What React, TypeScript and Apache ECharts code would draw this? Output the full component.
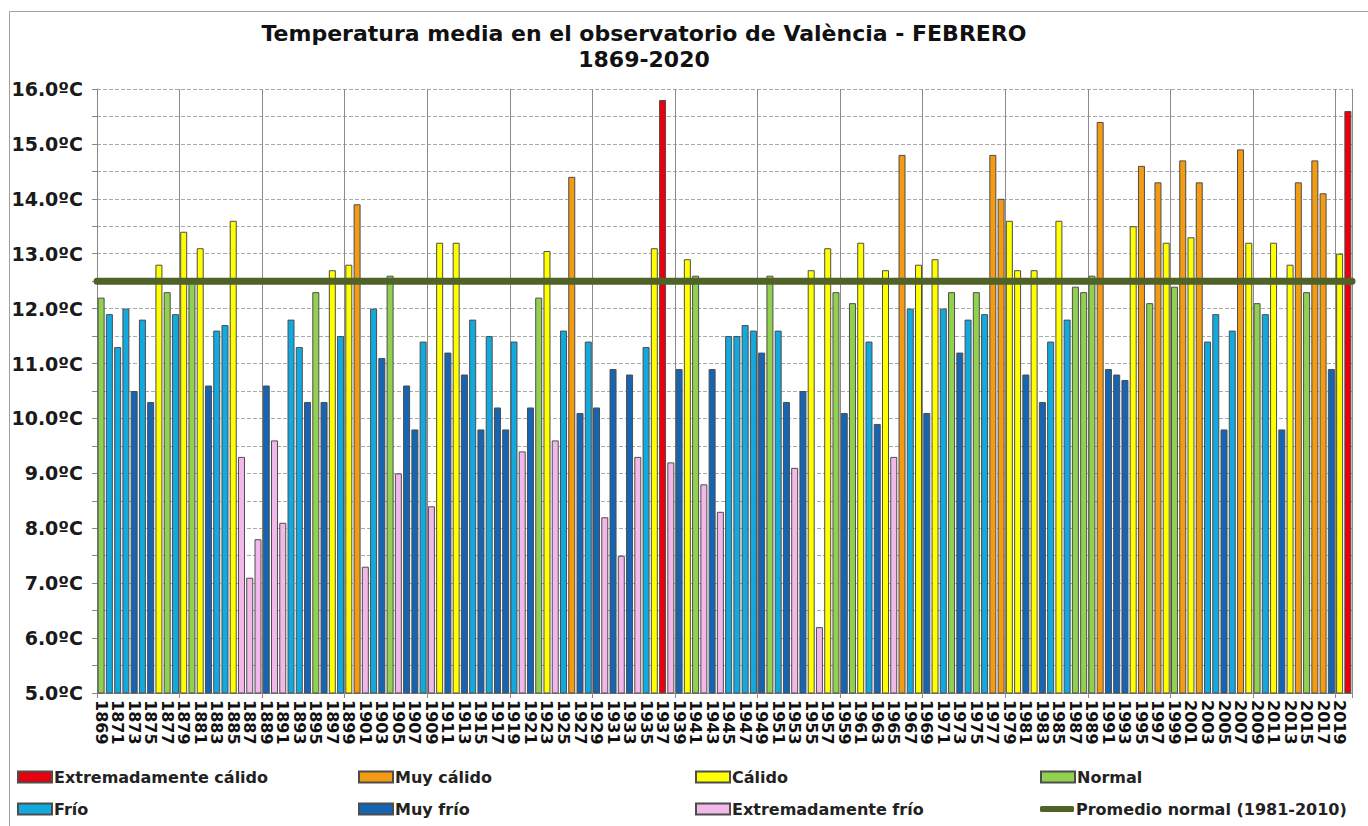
import React, { useEffect, useRef } from "react";
import * as echarts from "echarts";

const firstYear = 1869;
const lastYear = 2020;
const years: string[] = [];
for (let y = firstYear; y <= lastYear; y++) years.push(String(y));

const values: number[] = [
  12.2, 11.9, 11.3, 12.0, 10.5, 11.8, 10.3, 12.8, 12.3, 11.9, // 1869-1878
  13.4, 12.5, 13.1, 10.6, 11.6, 11.7, 13.6, 9.3, 7.1, 7.8, // 1879-1888
  10.6, 9.6, 8.1, 11.8, 11.3, 10.3, 12.3, 10.3, 12.7, 11.5, // 1889-1898
  12.8, 13.9, 7.3, 12.0, 11.1, 12.6, 9.0, 10.6, 9.8, 11.4, // 1899-1908
  8.4, 13.2, 11.2, 13.2, 10.8, 11.8, 9.8, 11.5, 10.2, 9.8, // 1909-1918
  11.4, 9.4, 10.2, 12.2, 13.05, 9.6, 11.6, 14.4, 10.1, 11.4, // 1919-1928
  10.2, 8.2, 10.9, 7.5, 10.8, 9.3, 11.3, 13.1, 15.8, 9.2, // 1929-1938
  10.9, 12.9, 12.6, 8.8, 10.9, 8.3, 11.5, 11.5, 11.7, 11.6, // 1939-1948
  11.2, 12.6, 11.6, 10.3, 9.1, 10.5, 12.7, 6.2, 13.1, 12.3, // 1949-1958
  10.1, 12.1, 13.2, 11.4, 9.9, 12.7, 9.3, 14.8, 12.0, 12.8, // 1959-1968
  10.1, 12.9, 12.0, 12.3, 11.2, 11.8, 12.3, 11.9, 14.8, 14.0, // 1969-1978
  13.6, 12.7, 10.8, 12.7, 10.3, 11.4, 13.6, 11.8, 12.4, 12.3, // 1979-1988
  12.6, 15.4, 10.9, 10.8, 10.7, 13.5, 14.6, 12.1, 14.3, 13.2, // 1989-1998
  12.4, 14.7, 13.3, 14.3, 11.4, 11.9, 9.8, 11.6, 14.9, 13.2, // 1999-2008
  12.1, 11.9, 13.2, 9.8, 12.8, 14.3, 12.3, 14.7, 14.1, 10.9, // 2009-2018
  13.0, 15.6, // 2019-2020
];

// EC: Extremadamente cálido, MC: Muy cálido, C: Cálido, N: Normal,
// F: Frío, MF: Muy frío, EF: Extremadamente frío
const classes: string[] = [
  "N", "F", "F", "F", "MF", "F", "MF", "C", "N", "F",
  "C", "N", "C", "MF", "F", "F", "C", "EF", "EF", "EF",
  "MF", "EF", "EF", "F", "F", "MF", "N", "MF", "C", "F",
  "C", "MC", "EF", "F", "MF", "N", "EF", "MF", "MF", "F",
  "EF", "C", "MF", "C", "MF", "F", "MF", "F", "MF", "MF",
  "F", "EF", "MF", "N", "C", "EF", "F", "MC", "MF", "F",
  "MF", "EF", "MF", "EF", "MF", "EF", "F", "C", "EC", "EF",
  "MF", "C", "N", "EF", "MF", "EF", "F", "F", "F", "F",
  "MF", "N", "F", "MF", "EF", "MF", "C", "EF", "C", "N",
  "MF", "N", "C", "F", "MF", "C", "EF", "MC", "F", "C",
  "MF", "C", "F", "N", "MF", "F", "N", "F", "MC", "MC",
  "C", "C", "MF", "C", "MF", "F", "C", "F", "N", "N",
  "N", "MC", "MF", "MF", "MF", "C", "MC", "N", "MC", "C",
  "N", "MC", "C", "MC", "F", "F", "MF", "F", "MC", "C",
  "N", "F", "C", "MF", "C", "MC", "N", "MC", "MC", "MF",
  "C", "EC",
];

const classCodes = ["EC", "MC", "C", "N", "F", "MF", "EF"];
const classNames = [
  "Extremadamente cálido",
  "Muy cálido",
  "Cálido",
  "Normal",
  "Frío",
  "Muy frío",
  "Extremadamente frío",
];
const classColors = [
  "#E8000F",
  "#F39B12",
  "#FFFF00",
  "#92D050",
  "#12A9DE",
  "#1565B3",
  "#F2B8EA",
];

const normalName = "Promedio normal (1981-2010)";
const normalValue = 12.5;
const normalColor = "#4F6228";
// the average spans the whole period: from start (0) to end (1) of the time axis
const normalSpan: [number, number][] = [
  [0, normalValue],
  [1, normalValue],
];

const titleLine1 = "Temperatura media en el observatorio de València - FEBRERO";
const titleLine2 = "1869-2020";

const FONT = "DejaVu Sans";

// legend placement: [left, top] for each entry
const legendPos: [number, number][] = [
  [17, 769],
  [358, 769],
  [695, 769],
  [1040, 769],
  [17, 801],
  [358, 801],
  [695, 801],
  [1040, 801],
];

export default function App() {
  const ref = useRef<HTMLDivElement>(null);

  useEffect(() => {
    if (!ref.current) return;
    const chart = echarts.init(ref.current, undefined, { renderer: "svg" });

    const barSeries: any[] = classCodes.map((code, k) => ({
      name: classNames[k],
      type: "bar",
      barWidth: 7,
      barGap: "-100%",
      itemStyle: {
        color: classColors[k],
        borderColor: "#4d4d4d",
        borderWidth: 1,
      },
      data: values.map((v, i) => (classes[i] === code ? v : null)),
      z: 2,
    }));

    const legendNames = [...classNames, normalName];
    const legends = legendNames.map((name, k) => ({
      data: [
        k === 7
          ? { name, icon: "roundRect", itemStyle: { color: normalColor } }
          : { name, icon: "rect" },
      ],
      left: legendPos[k][0],
      top: legendPos[k][1],
      padding: 0,
      itemWidth: 34,
      itemHeight: k === 7 ? 6 : 11,
      itemGap: 0,
      selectedMode: false,
      textStyle: {
        fontFamily: FONT,
        fontSize: 16,
        fontWeight: "bold",
        color: "#222",
        padding: [0, 0, 0, -3],
      },
    }));

    chart.setOption({
      animation: false,
      backgroundColor: "#ffffff",
      textStyle: { fontFamily: FONT },
      graphic: [
        {
          type: "rect",
          shape: { x: 9.5, y: 11.5, width: 1400, height: 900 },
          style: { fill: "none", stroke: "#a0a0a0", lineWidth: 1 },
          z: -10,
          silent: true,
        },
        {
          type: "text",
          x: 644,
          y: 33,
          style: {
            text: titleLine1,
            font: `bold 22px "${FONT}"`,
            fill: "#111",
            textAlign: "center",
            textVerticalAlign: "middle",
          },
        },
        {
          type: "text",
          x: 644,
          y: 59,
          style: {
            text: titleLine2,
            font: `bold 22px "${FONT}"`,
            fill: "#111",
            textAlign: "center",
            textVerticalAlign: "middle",
          },
        },
      ],
      legend: legends,
      grid: { left: 97, right: 16, top: 89, bottom: 133, containLabel: false },
      xAxis: [
        {
          type: "category",
          data: years,
          boundaryGap: true,
          axisLine: { show: true, lineStyle: { color: "#888", width: 1 } },
          axisTick: {
            show: true,
            length: 5,
            interval: (i: number) => i % 10 === 0,
            lineStyle: { color: "#888" },
          },
          splitLine: {
            show: true,
            interval: (i: number) => i % 10 === 0,
            lineStyle: { color: "#8a8a8a", width: 1, type: "solid" },
          },
          axisLabel: {
            interval: 1,
            rotate: -90,
            margin: 7,
            fontFamily: FONT,
            fontSize: 16,
            fontWeight: "bold",
            color: "#111",
          },
        },
        {
          type: "value",
          min: 0,
          max: 1,
          show: false,
        },
      ],
      yAxis: {
        type: "value",
        min: 5,
        max: 16,
        interval: 0.5,
        axisLine: { show: true, lineStyle: { color: "#888", width: 1 } },
        axisTick: { show: true, length: 5, lineStyle: { color: "#888" } },
        splitLine: {
          show: true,
          lineStyle: { color: "#aaaaaa", type: "dashed", width: 1 },
        },
        axisLabel: {
          margin: 14,
          fontFamily: FONT,
          fontSize: 19,
          fontWeight: "bold",
          color: "#1a1a1a",
          formatter: (v: number) =>
            Math.abs(v - Math.round(v)) < 1e-6 ? v.toFixed(1) + "ºC" : "",
        },
      },
      series: [
        ...barSeries,
        {
          name: normalName,
          type: "line",
          xAxisIndex: 1,
          yAxisIndex: 0,
          data: normalSpan,
          showSymbol: false,
          symbol: "none",
          z: 5,
          itemStyle: { color: normalColor },
          lineStyle: {
            color: normalColor,
            width: 7,
            cap: "round",
          },
        },
      ],
    });

    return () => chart.dispose();
  }, []);

  return (
    <div
      ref={ref}
      style={{ position: "absolute", left: 0, top: 0, width: 1368, height: 826 }}
    />
  );
}
